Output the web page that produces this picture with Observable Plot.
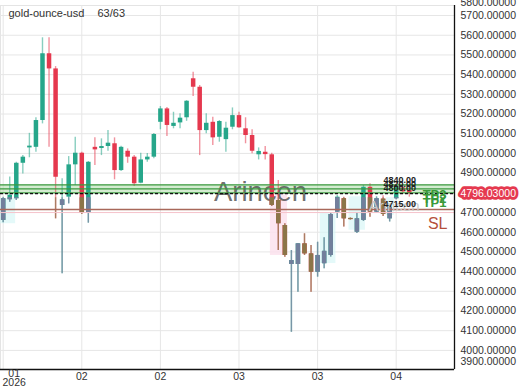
<!DOCTYPE html>
<html><head><meta charset="utf-8">
<script src="https://cdn.jsdelivr.net/npm/d3@7"></script>
<script src="https://cdn.jsdelivr.net/npm/@observablehq/plot@0.6"></script>
<style>body{margin:0;background:#fff;}#chart{width:520px;height:390px;}</style>
</head><body><div id="chart"></div>
<script>
// ---- data ----
const opens  = [4660,4765,4770,4950,5028,5031,5167,5506,5429,4736,4778,4942,5001,4696,5031,5025,5035,5049,4913,5011,4981,4849,4967,4981,5158,5226,5137,5155,5181,5379,5336,5116,5158,5082,5070,5133,5192,5125,5091,4993,5006,4993,4761,4634,4436,4436,4541,4490,4397,4440,4482,4702,4770,4670,4600,4660,4828,4702,4768,4668,4770,4825,4812];
const highs  = [4778,4880,4955,4990,5102,5181,5587,5587,5441,4871,4984,5082,5006,4959,5079,5074,5116,5079,5036,5023,4989,5001,4999,5101,5238,5233,5209,5201,5268,5412,5345,5201,5184,5167,5158,5231,5209,5181,5120,5028,5035,5001,4863,4643,4507,4541,4592,4533,4549,4572,4697,4786,4778,4672,4700,4837,4846,4781,4785,4736,4840,4840,4830];
const lows   = [4648,4752,4761,4896,4978,5006,5150,5031,4668,4389,4744,4837,4690,4646,4939,4989,5011,4866,4908,4950,4832,4846,4955,4973,5120,5086,5125,5125,5163,5289,4989,5100,5040,5057,5006,5120,5128,5049,4998,4967,4967,4730,4507,4473,4092,4295,4482,4295,4372,4414,4474,4670,4626,4662,4593,4655,4676,4695,4680,4652,4765,4798,4778];
const closes = [4770,4788,4950,4981,5037,5167,5506,5429,4879,4764,4942,5001,4696,4955,5018,5035,5052,4913,5031,4981,4846,4967,4981,5096,5226,5142,5153,5179,5265,5336,5116,5153,5079,5162,5128,5192,5130,5091,5011,5010,4994,4736,4643,4482,4456,4541,4490,4397,4482,4503,4690,4778,4668,4664,4668,4828,4702,4770,4690,4726,4830,4805,4796];

const xTickIndex  = [0, 12, 24, 36, 48, 60];
const xTickLabels = ["01\n2026", "02", "02", "03", "03", "04"];
const yTicks      = [4000,4100,4200,4300,4400,4500,4600,4700,4800,4900,5000,5100,5200,5300,5400,5500,5600,5700];
const yLowEdgeTick  = 3900;
const yHighEdgeTick = 5800;

const tpLevels = [4800, 4820, 4840];
const tpNames  = ["TP1", "TP2", "TP3"];
const slLevel  = 4715;
const currentPrice = 4796.03;
const mutedBelow = 4775;

const title = "gold-ounce-usd";
const counter = "63/63";
const watermark = "Arincen";

// highlight zones [i1, i2, p1, p2]
const cyanZones = [[-0.41, 1.9, 4643, 4770], [48.4, 50.8, 4441, 4695], [52.8, 55.3, 4610, 4780], [58.5, 59.7, 4685, 4775]];
const pinkZones = [[40.8, 43.4, 4482, 4800]];

// ---- build ----
const xDomain = [-0.41, 68.9];
const yDomain = [3903, 5751];
const UP = "#26a68a", DOWN = "#e5384e", UP_M = "#727f9c", DOWN_M = "#8c7548";

const candles = opens.map((o, i) => ({i, open: o, high: highs[i], low: lows[i], close: closes[i], up: closes[i] >= o}));
const mutedW = candles.filter(d => d.low < mutedBelow).map(d => ({...d, a: d.low, b: Math.min(d.high, mutedBelow)}));
const mutedB = candles.filter(d => Math.min(d.open, d.close) < mutedBelow)
  .map(d => ({...d, a: Math.min(d.open, d.close), b: Math.min(Math.max(d.open, d.close), mutedBelow)}));
const xTicks = xTickIndex.map((i, k) => ({i, label: xTickLabels[k]}));
const tps = tpLevels.map((v, k) => ({v, name: tpNames[k]}));
const zoneObj = z => ({x1: z[0], x2: z[1], y1: z[2], y2: z[3]});

const chart = Plot.plot({
  width: 520, height: 390,
  marginLeft: 0, marginRight: 66, marginTop: 5, marginBottom: 21,
  style: {fontFamily: "'Liberation Sans', Arial, sans-serif", fontSize: "10.5px", color: "#333", background: "#fff"},
  x: {type: "linear", domain: xDomain, axis: null},
  y: {domain: yDomain, axis: null, label: null},
  marks: [
    Plot.frame({stroke: "#e4e4e4"}),
    Plot.ruleY(yTicks, {stroke: "#e6e6e6"}),
    Plot.ruleX(xTickIndex, {stroke: "#e6e6e6"}),
    Plot.rect(cyanZones.map(zoneObj), {x1: "x1", x2: "x2", y1: "y1", y2: "y2", fill: "#d6f6f6", fillOpacity: 0.65}),
    Plot.rect(pinkZones.map(zoneObj), {x1: "x1", x2: "x2", y1: "y1", y2: "y2", fill: "#fbe0ec", fillOpacity: 0.8}),
    Plot.rect([{lo: d3.min(tpLevels), hi: d3.max(tpLevels)}], {y1: "lo", y2: "hi", fill: "#9fd49a", fillOpacity: 0.45}),
    Plot.text([watermark], {frameAnchor: "middle", dx: 33, dy: 5, fontSize: 27.5, fill: "#4a4a4a", fillOpacity: 0.8}),
    // candles
    Plot.ruleX(candles, {x: "i", y1: "low", y2: "high", stroke: d => d.up ? UP : DOWN, strokeOpacity: 0.55, strokeWidth: 1.4}),
    Plot.ruleX(candles, {x: "i", y1: "open", y2: "close", stroke: d => d.up ? UP : DOWN, strokeWidth: 4.5}),
    Plot.ruleX(mutedW, {x: "i", y1: "a", y2: "b", stroke: d => d.up ? UP_M : DOWN_M, strokeOpacity: 0.7, strokeWidth: 1.4}),
    Plot.ruleX(mutedB, {x: "i", y1: "a", y2: "b", stroke: d => d.up ? UP_M : DOWN_M, strokeWidth: 4.5}),
    // levels
    Plot.ruleY(tpLevels, {stroke: "#3b9a3f", strokeWidth: 1.3}),
    Plot.ruleY([slLevel], {stroke: "#a8685a", strokeWidth: 1.5}),
    Plot.ruleY([slLevel], {stroke: "#f6c4cc", strokeWidth: 1, dy: 3}),
    Plot.ruleY([currentPrice], {stroke: "#111", strokeWidth: 1.2, strokeDasharray: "3,2"}),
    // right-side labels
    Plot.text([watermark], {y: slLevel, frameAnchor: "right", dx: -35, dy: -3, fontSize: 15, fill: "#c9c9c9"}),
    Plot.text(tps, {y: "v", text: d => d.v.toFixed(2), frameAnchor: "right", dx: -71, dy: -5, textAnchor: "start", fontSize: 9, fontWeight: "bold", fill: "#222"}),
    Plot.text([slLevel], {y: d => d, text: d => d.toFixed(2), frameAnchor: "right", dx: -71, dy: -5, textAnchor: "start", fontSize: 9, fontWeight: "bold", fill: "#222"}),
    Plot.text(tps, {y: "v", text: "name", frameAnchor: "right", dx: -8, dy: 10, textAnchor: "end", fontSize: 13, fontWeight: "bold", fill: "#3a9a3a"}),
    Plot.text([slLevel], {y: d => d, text: ["SL"], frameAnchor: "right", dx: -7, dy: 14, textAnchor: "end", fontSize: 16, fill: "#b5503c"}),
    // axes
    Plot.ruleX([xDomain[1]], {stroke: "#111", strokeWidth: 1.3}),
    Plot.ruleY([yDomain[0]], {stroke: "#111", strokeWidth: 1.3}),
    Plot.axisY(yTicks, {anchor: "right", tickSize: 0, tickPadding: 6, tickFormat: d => d.toFixed(5), fontSize: 10.5, fill: "#333", label: null}),
    Plot.text([yLowEdgeTick], {text: d => d.toFixed(5), frameAnchor: "bottom-right", dx: 6, dy: -8, lineAnchor: "middle", textAnchor: "start", fontSize: 10.5, fill: "#333"}),
    Plot.text([yHighEdgeTick], {text: d => d.toFixed(5), frameAnchor: "top-right", dx: 6, dy: -3, lineAnchor: "middle", textAnchor: "start", fontSize: 10.5, fill: "#333"}),
    Plot.text([currentPrice], {y: d => d, text: d => d.toFixed(5), frameAnchor: "right", dx: 6, textAnchor: "start", fontSize: 10.5, fill: "white", stroke: "#e5394f", strokeWidth: 5.5, strokeLinejoin: "round"}),
    Plot.text(xTicks.slice(0, 1), {x: "i", text: "label", frameAnchor: "bottom", dx: 11, dy: 1.5, lineAnchor: "top", lineHeight: 0.85, fontSize: 10.5, fill: "#333"}),
    Plot.text(xTicks.slice(1), {x: "i", text: "label", frameAnchor: "bottom", dy: 7, lineAnchor: "middle", fontSize: 10.5, fill: "#333"}),
    // title
    Plot.text([title], {frameAnchor: "top-left", dx: 8, dy: 8, lineAnchor: "middle", textAnchor: "start", fontSize: 11, fill: "#333"}),
    Plot.text([counter], {frameAnchor: "top-left", dx: 97, dy: 8, lineAnchor: "middle", textAnchor: "start", fontSize: 11, fill: "#333"})
  ]
});
document.getElementById("chart").append(chart);
</script></body></html>
